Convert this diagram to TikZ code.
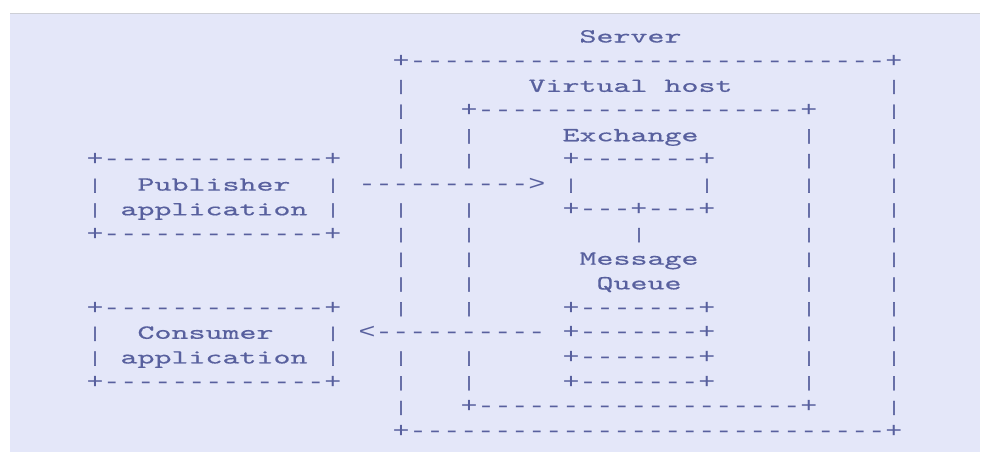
\documentclass[tikz,border=0pt]{standalone}
\usepackage{fontspec}
\newfontfamily\wfont[FakeStretch=1.619,FakeBold=0.5,Ligatures=TeXOff]{lmmono10-regular.otf}
\newfontfamily\bfontx[FakeStretch=1.349,Ligatures=TeXOff]{Liberation Mono}
\newfontfamily\vfont[FakeBold=2.5]{Liberation Mono}
\definecolor{panel}{RGB}{228,231,249}
\definecolor{ink}{RGB}{88,96,158}
\definecolor{edge}{RGB}{205,207,214}
% strings of + - < > characters
\newcommand\tok[4]{\node[bx] (#1) at ({86.5+17*#2},{42.5+24.69*#3}) {#4};}
% words
\newcommand\wrd[4]{\node[wd] (#1) at ({86.5+17*#2},{42.5+24.69*#3}) {#4};}
% single vertical bars
\newcommand\vbr[3]{\node[vb] (#1) at ({95+17*#2},{41.5+24.69*#3}) {|};}
\begin{document}
\begin{tikzpicture}[x=1pt,y=-1pt,
  bx/.style={anchor=base west,inner sep=0pt,outer sep=0pt,
    font=\bfontx\fontsize{21}{21}\selectfont,text=ink},
  wd/.style={anchor=base west,inner sep=0pt,outer sep=0pt,
    font=\wfont\fontsize{20}{20}\selectfont,text=ink},
  vb/.style={anchor=base,inner sep=0pt,outer sep=0pt,
    font=\vfont\fontsize{15}{15}\selectfont,text=ink}]
\useasboundingbox (0,0) rectangle (998,461);
\fill[white] (0,0) rectangle (998,461);
\fill[panel] (10,14) rectangle (980,452);
\draw[edge,line width=1.2pt] (10,13.6) -- (980,13.6);
% row 0
\wrd{srv}{29}{0}{Server}
% row 1
\tok{r1a}{18}{1}{+----------------------------+}
% row 2
\vbr{r2a}{18}{2}\wrd{vh1}{26}{2}{Virtual}\wrd{vh2}{34}{2}{host}\vbr{r2b}{47}{2}
% row 3
\vbr{r3a}{18}{3}\tok{r3b}{22}{3}{+-------------------+}\vbr{r3c}{47}{3}
% row 4
\vbr{r4a}{18}{4}\vbr{r4b}{22}{4}\wrd{exch}{28}{4}{Exchange}\vbr{r4c}{42}{4}\vbr{r4d}{47}{4}
% row 5
\tok{r5a}{0}{5}{+-------------+}\vbr{r5b}{18}{5}\vbr{r5c}{22}{5}\tok{r5d}{28}{5}{+-------+}\vbr{r5e}{42}{5}\vbr{r5f}{47}{5}
% row 6
\vbr{r6a}{0}{6}\wrd{pub}{3}{6}{Publisher}\vbr{r6b}{14}{6}\tok{arr1}{16}{6}{---------->}\vbr{r6c}{28}{6}\vbr{r6d}{36}{6}\vbr{r6e}{42}{6}\vbr{r6f}{47}{6}
% row 7
\vbr{r7a}{0}{7}\wrd{app1}{2}{7}{application}\vbr{r7b}{14}{7}\vbr{r7c}{18}{7}\vbr{r7d}{22}{7}\tok{r7e}{28}{7}{+---+---+}\vbr{r7f}{42}{7}\vbr{r7g}{47}{7}
% row 8
\tok{r8a}{0}{8}{+-------------+}\vbr{r8b}{18}{8}\vbr{r8c}{22}{8}\vbr{r8d}{32}{8}\vbr{r8e}{42}{8}\vbr{r8f}{47}{8}
% row 9
\vbr{r9a}{18}{9}\vbr{r9b}{22}{9}\wrd{msg}{29}{9}{Message}\vbr{r9c}{42}{9}\vbr{r9d}{47}{9}
% row 10
\vbr{r10a}{18}{10}\vbr{r10b}{22}{10}\wrd{que}{30}{10}{Queue}\vbr{r10c}{42}{10}\vbr{r10d}{47}{10}
% row 11
\tok{r11a}{0}{11}{+-------------+}\vbr{r11b}{18}{11}\vbr{r11c}{22}{11}\tok{r11d}{28}{11}{+-------+}\vbr{r11e}{42}{11}\vbr{r11f}{47}{11}
% row 12
\vbr{r12a}{0}{12}\wrd{con}{3}{12}{Consumer}\vbr{r12b}{14}{12}\tok{arr2}{16}{12}{<----------}\tok{r12c}{28}{12}{+-------+}\vbr{r12d}{42}{12}\vbr{r12e}{47}{12}
% row 13
\vbr{r13a}{0}{13}\wrd{app2}{2}{13}{application}\vbr{r13b}{14}{13}\vbr{r13c}{18}{13}\vbr{r13d}{22}{13}\tok{r13e}{28}{13}{+-------+}\vbr{r13f}{42}{13}\vbr{r13g}{47}{13}
% row 14
\tok{r14a}{0}{14}{+-------------+}\vbr{r14b}{18}{14}\vbr{r14c}{22}{14}\tok{r14d}{28}{14}{+-------+}\vbr{r14e}{42}{14}\vbr{r14f}{47}{14}
% row 15
\vbr{r15a}{18}{15}\tok{r15b}{22}{15}{+-------------------+}\vbr{r15c}{47}{15}
% row 16
\tok{r16a}{18}{16}{+----------------------------+}
\end{tikzpicture}
\end{document}
